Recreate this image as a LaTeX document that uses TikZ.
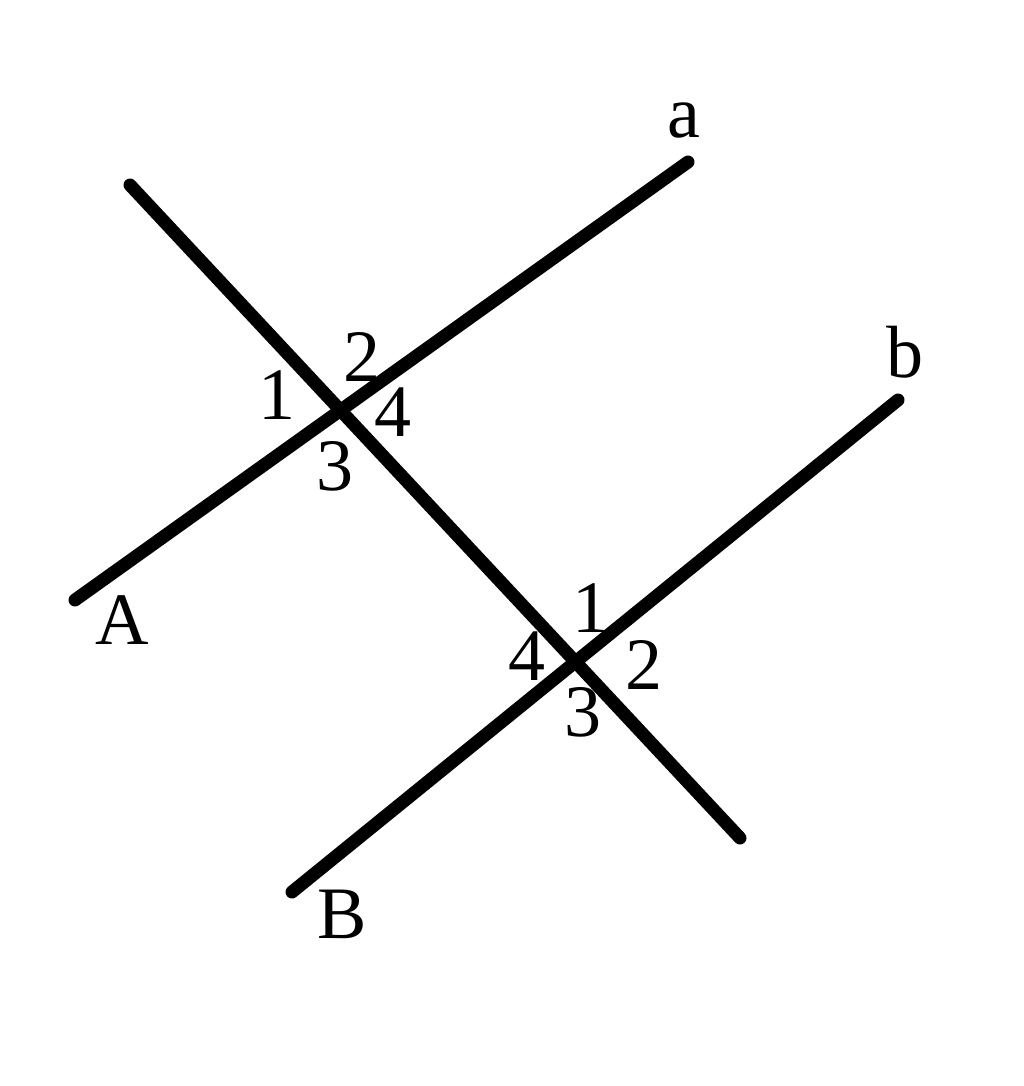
\documentclass[tikz,border=0pt]{standalone}
\usepackage{fontspec}
\setmainfont{Liberation Serif}
\begin{document}
\begin{tikzpicture}[x=1pt,y=-1pt,
  ln/.style={line width=13pt,line cap=round},
  lbl/.style={inner sep=0pt,font=\fontsize{74}{76}\selectfont}]
\useasboundingbox (0,0) rectangle (1024,1086);
\fill[white] (0,0) rectangle (1024,1086);
\coordinate (t1) at (130,185);
\coordinate (t2) at (740,838);
\coordinate (a1) at (75,600);
\coordinate (a2) at (688,162);
\coordinate (b1) at (292,892);
\coordinate (b2) at (898,400);
\draw[ln] (t1) -- (t2);
\draw[ln] (a1) -- (a2);
\draw[ln] (b1) -- (b2);
\node[lbl] (la) at (684,121) {a};
\node[lbl] (lb) at (905,352) {b};
\node[lbl] (lA) at (122,620) {A};
\node[lbl] (lB) at (342,914) {B};
\node[lbl] (p1) at (277,395) {1};
\node[lbl] (p2) at (362,357) {2};
\node[lbl] (p4) at (393,412) {4};
\node[lbl] (p3) at (335,466) {3};
\node[lbl] (q1) at (591,608) {1};
\node[lbl] (q4) at (527,656) {4};
\node[lbl] (q2) at (644,665) {2};
\node[lbl] (q3) at (583,712) {3};
\end{tikzpicture}
\end{document}
